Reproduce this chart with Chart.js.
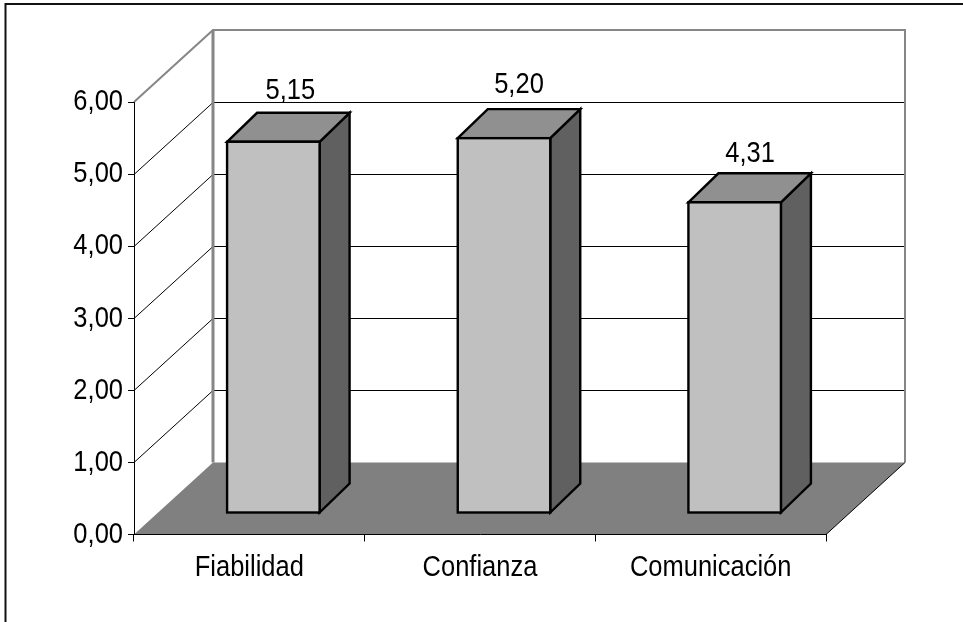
<!DOCTYPE html>
<html>
<head>
<meta charset="utf-8">
<style>html,body{margin:0;padding:0;background:#fff}canvas{display:block}</style>
<script src="https://cdn.jsdelivr.net/npm/chart.js@4"></script>
</head>
<body>
<canvas id="c" width="963" height="622"></canvas>
<script>
const categories = ['Fiabilidad', 'Confianza', 'Comunicación'];
const scores = [5.15, 5.20, 4.31];
const valueTicks = [0, 1, 2, 3, 4, 5, 6];

const FONT = '"Liberation Sans", Arial, sans-serif';
const FONT_SIZE = 30;
const TEXT_CONDENSE = 0.85;
const COLUMN_LINE = 2.4;
// Oblique projection of the chart box and of each column
const BOX = { dx: 79, dy: -72 };
const COLUMN = { dx: 30, dy: -29, shiftX: 24, shiftY: -21.5 };
// Nudges of each value label relative to its column's top back edge
const labelNudgeX = [17, 15, 15.5];
const labelLift = [14.2, 15.8, 11.5];
const comma = v => Number(v).toFixed(2).replace('.', ',');

const canvas = document.getElementById('c');
const context = canvas.getContext('2d');

// All chart text uses a horizontally condensed sans
const plainFillText = context.fillText.bind(context);
context.fillText = function (text, x, y, maxWidth) {
  context.save();
  context.translate(x, y);
  context.scale(TEXT_CONDENSE, 1);
  plainFillText(text, 0, 0, maxWidth);
  context.restore();
};

const box3d = {
  id: 'box3d',
  beforeDraw(chart) {
    const { ctx, scales: { x, y } } = chart;
    const L = x.left, R = x.right, B = y.bottom, T = y.top;
    ctx.save();
    ctx.fillStyle = '#fff';
    ctx.fillRect(0, 0, chart.width, chart.height);
    ctx.strokeStyle = '#111';
    ctx.lineWidth = 2;
    ctx.strokeRect(5.5, 4, 1200, 1200);

    // floor
    ctx.fillStyle = '#808080';
    ctx.beginPath();
    ctx.moveTo(L, B);
    ctx.lineTo(L + BOX.dx, B + BOX.dy);
    ctx.lineTo(R + BOX.dx, B + BOX.dy);
    ctx.lineTo(R, B);
    ctx.closePath();
    ctx.fill();

    // gridlines across the side wall and the back wall
    ctx.strokeStyle = '#000';
    ctx.lineWidth = 1;
    valueTicks.forEach(v => {
      if (v === 0 || v === valueTicks[valueTicks.length - 1]) return;
      const py = Math.round(y.getPixelForValue(v)) + 0.5;
      ctx.beginPath();
      ctx.moveTo(L, py);
      ctx.lineTo(L + BOX.dx, py + BOX.dy);
      ctx.lineTo(R + BOX.dx, py + BOX.dy);
      ctx.stroke();
    });

    // grey frame of the back wall
    ctx.strokeStyle = '#868686';
    ctx.lineWidth = 2;
    ctx.beginPath();
    ctx.moveTo(L, T);
    ctx.lineTo(L + BOX.dx, T + BOX.dy);
    ctx.lineTo(R + BOX.dx, T + BOX.dy);
    ctx.lineTo(R + BOX.dx, B + BOX.dy);
    ctx.stroke();
    ctx.lineWidth = 3;
    ctx.beginPath();
    ctx.moveTo(L + BOX.dx, T + BOX.dy);
    ctx.lineTo(L + BOX.dx, B + BOX.dy);
    ctx.stroke();
    ctx.lineWidth = 1;
    ctx.strokeStyle = '#000';
    ctx.beginPath();
    ctx.moveTo(R, B);
    ctx.lineTo(R + BOX.dx, B + BOX.dy);
    ctx.stroke();
    ctx.restore();
  },
  beforeDatasetDraw(chart, args) {
    const { ctx } = chart;
    ctx.save();
    ctx.translate(COLUMN.shiftX, COLUMN.shiftY);
    // side and top faces, behind the front face of each column
    chart.getDatasetMeta(args.index).data.forEach(bar => {
      const { x, y, base, width } = bar.getProps(['x', 'y', 'base', 'width'], true);
      const l = x - width / 2, r = x + width / 2;
      ctx.lineWidth = COLUMN_LINE;
      ctx.lineJoin = 'miter';
      ctx.strokeStyle = '#000';
      ctx.fillStyle = '#606060';
      ctx.beginPath();
      ctx.moveTo(r, y);
      ctx.lineTo(r + COLUMN.dx, y + COLUMN.dy);
      ctx.lineTo(r + COLUMN.dx, base + COLUMN.dy);
      ctx.lineTo(r, base);
      ctx.closePath();
      ctx.fill();
      ctx.stroke();
      ctx.fillStyle = '#909090';
      ctx.beginPath();
      ctx.moveTo(l, y);
      ctx.lineTo(l + COLUMN.dx, y + COLUMN.dy);
      ctx.lineTo(r + COLUMN.dx, y + COLUMN.dy);
      ctx.lineTo(r, y);
      ctx.closePath();
      ctx.fill();
      ctx.stroke();
    });
  },
  afterDatasetDraw(chart, args) {
    const { ctx } = chart;
    ctx.fillStyle = '#000';
    ctx.font = FONT_SIZE + 'px ' + FONT;
    ctx.textAlign = 'center';
    ctx.textBaseline = 'alphabetic';
    chart.getDatasetMeta(args.index).data.forEach((bar, i) => {
      const { x, y, base, width } = bar.getProps(['x', 'y', 'base', 'width'], true);
      // outline of the front face
      ctx.lineWidth = COLUMN_LINE;
      ctx.strokeStyle = '#000';
      ctx.strokeRect(x - width / 2, y, width, base - y);
      // value label above the column
      ctx.fillText(comma(scores[i]), x + labelNudgeX[i], y + COLUMN.dy - labelLift[i]);
    });
    ctx.restore();
  }
};

new Chart(canvas, {
  type: 'bar',
  data: {
    labels: categories,
    datasets: [{
      data: scores,
      backgroundColor: '#c0c0c0',
      borderWidth: 0,
      barThickness: 92.5,
      clip: false
    }]
  },
  plugins: [box3d],
  options: {
    responsive: false,
    animation: false,
    events: [],
    layout: { padding: { left: 0, top: 102, right: 137, bottom: 0 } },
    plugins: { legend: { display: false }, tooltip: { enabled: false }, title: { display: false } },
    scales: {
      x: {
        afterFit(s) { s.height = 87.5; },
        grid: { drawOnChartArea: false, color: '#000', tickLength: 7, offset: true },
        border: { color: '#000' },
        ticks: { color: '#000', font: { family: FONT, size: FONT_SIZE }, padding: 8, maxRotation: 0, autoSkip: false }
      },
      y: {
        min: 0,
        max: 6,
        afterFit(s) { s.width = 134; },
        grid: { drawOnChartArea: false, color: '#000', tickLength: 6 },
        border: { color: '#000' },
        ticks: {
          stepSize: 1,
          color: '#000',
          font: { family: FONT, size: FONT_SIZE },
          padding: 5,
          callback: comma
        }
      }
    }
  }
});
</script>
</body>
</html>
